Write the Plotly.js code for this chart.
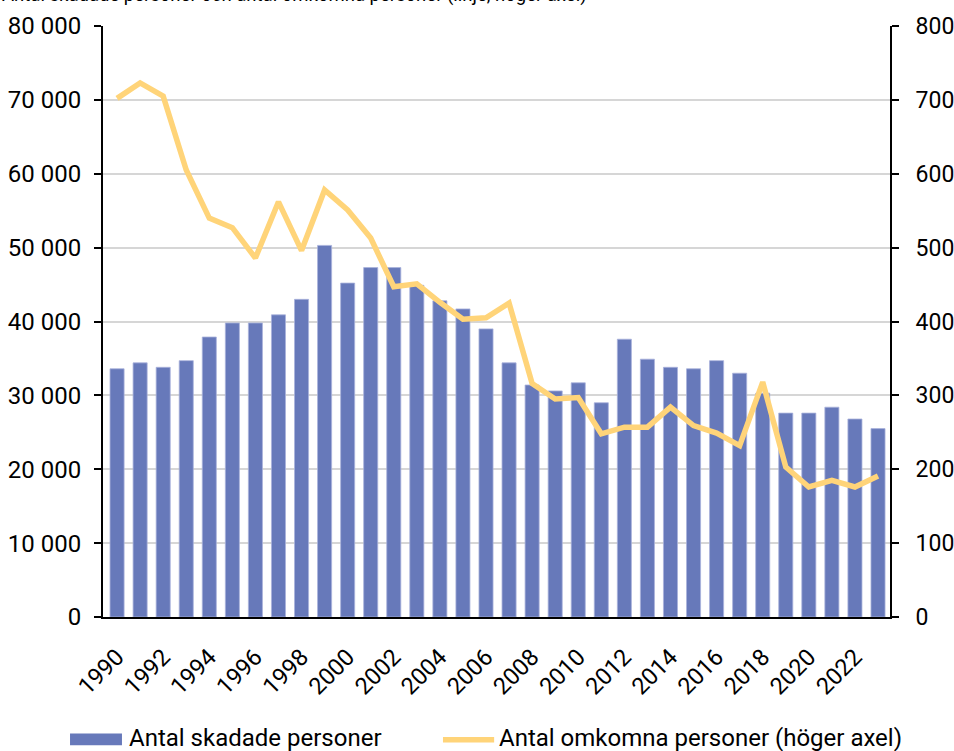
<!DOCTYPE html>
<html>
<head>
<meta charset="utf-8">
<script src="https://cdn.plot.ly/plotly-3.0.1.min.js"></script>
<style>html,body{margin:0;padding:0;background:#fff;}#chart{width:954px;height:751px;}</style>
</head>
<body>
<div id="chart"></div>
<script>
const years = [1990,1991,1992,1993,1994,1995,1996,1997,1998,1999,2000,2001,2002,2003,2004,2005,2006,2007,2008,2009,2010,2011,2012,2013,2014,2015,2016,2017,2018,2019,2020,2021,2022,2023];
const injured = [33600,34400,33800,34700,37900,39800,39800,40900,43000,50300,45200,47300,47300,44900,42800,41700,39000,34400,31400,30600,31700,29000,37600,34900,33800,33600,34700,33000,30300,27600,27600,28400,26800,25500];
const killed = [702,723,705,605,540,527,486,562,496,578,551,513,447,451,426,403,405,425,316,295,297,248,257,257,284,259,249,232,318,203,176,185,176,191];
const leftTicks = [0,10000,20000,30000,40000,50000,60000,70000,80000];
const leftTickText = ["0","10 000","20 000","30 000","40 000","50 000","60 000","70 000","80 000"];
const rightTicks = [0,100,200,300,400,500,600,700,800];
const seriesNames = ["Antal skadade personer","Antal omkomna personer (höger axel)"];
const titleText = "Antal skadade personer och antal omkomna personer (linje, höger axel)";

const barColor = "#6779ba";
const lineColor = "#ffd479";
const font = {family: "Roboto, 'Liberation Sans', sans-serif", color: "#000"};
const f = s => Object.assign({size:s}, font);

const traces = [
  {type:"bar", x: years, y: injured, name: seriesNames[0], yaxis:"y",
   marker:{color:barColor, line:{color:"#a9b3dc", width:0.8}}},
  {type:"scatter", mode:"lines", x: years, y: killed, name: seriesNames[1], yaxis:"y2",
   line:{color:lineColor, width:5.5}}
];

const layout = {
  width:954, height:751,
  margin:{l:103, r:64, t:26, b:134, autoexpand:false},
  paper_bgcolor:"#fff", plot_bgcolor:"#fff",
  font: f(20),
  bargap:0.39,
  showlegend:false,
  xaxis:{range:[1989.39,2023.52], tickmode:"linear", tick0:1990, dtick:2, tickangle:-45,
         showgrid:false, zeroline:false, showline:true, linecolor:"#000", linewidth:2,
         ticks:"", ticklabelstandoff:15, tickfont:f(23.5)},
  yaxis:{range:[0,80000], tickvals:leftTicks, ticktext:leftTickText, showgrid:true,
         gridcolor:"#d6d6d6", gridwidth:2, zeroline:false, showline:true, linecolor:"#000",
         linewidth:2, ticks:"outside", ticklen:7, tickwidth:2, tickcolor:"#000",
         ticklabelstandoff:8, tickfont:f(24)},
  yaxis2:{range:[0,800], tickvals:rightTicks, overlaying:"y", side:"right", showgrid:false,
          zeroline:false, showline:true, linecolor:"#000", linewidth:2, ticks:"outside",
          ticklen:7, tickwidth:2, tickcolor:"#000", ticklabelstandoff:12,
          tickfont:f(23)},
  shapes:[
    {type:"rect", xref:"paper", yref:"paper", x0:-0.0419, x1:0.0241, y0:-0.197, y1:-0.217,
     fillcolor:barColor, line:{width:0}},
    {type:"line", xref:"paper", yref:"paper", x0:0.432, x1:0.497, y0:-0.2075, y1:-0.2075,
     line:{color:lineColor, width:5.5}}
  ],
  annotations:[
    {text:titleText, xref:"paper", yref:"paper", x:-0.131, xanchor:"left",
     y:1.052, yanchor:"middle", showarrow:false, font:f(18.5)},
    {text:seriesNames[0], xref:"paper", yref:"paper", x:0.0305, xanchor:"left",
     y:-0.205, yanchor:"middle", showarrow:false, font:f(24)},
    {text:seriesNames[1], xref:"paper", yref:"paper", x:0.501, xanchor:"left",
     y:-0.205, yanchor:"middle", showarrow:false, font:f(24)}
  ]
};

Plotly.newPlot("chart", traces, layout, {displayModeBar:false, staticPlot:true});
</script>
</body>
</html>
